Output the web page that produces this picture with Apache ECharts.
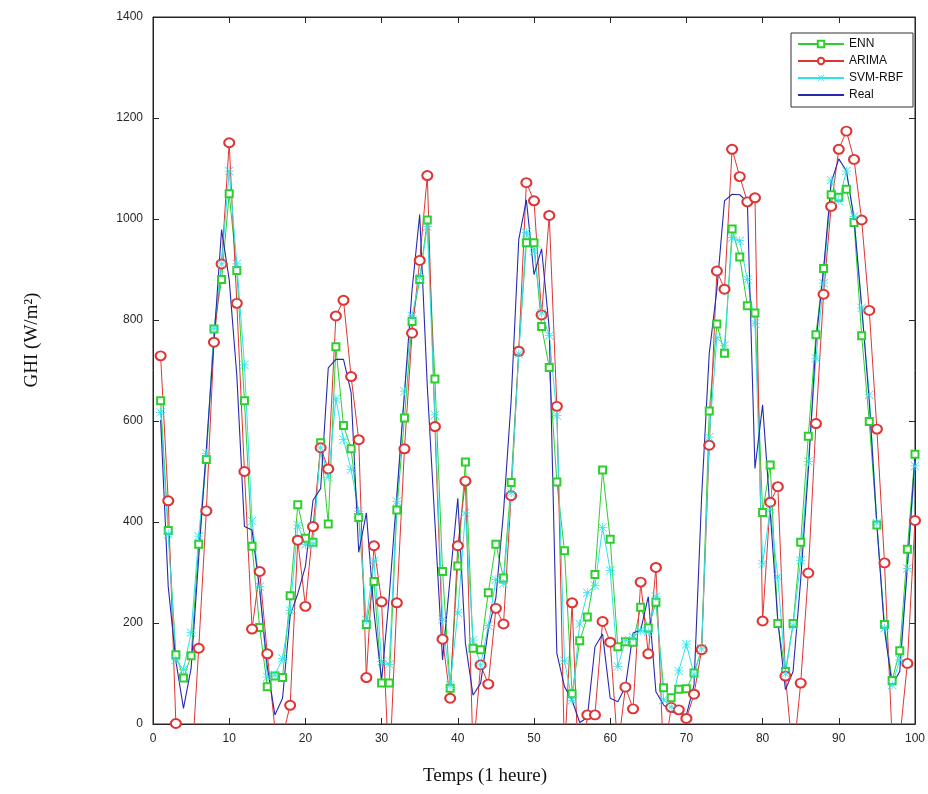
<!DOCTYPE html>
<html><head><meta charset="utf-8">
<script src="https://cdn.jsdelivr.net/npm/echarts@6/dist/echarts.min.js"></script>
<style>html,body{margin:0;padding:0;background:#fff}#c{width:928px;height:794px}</style>
</head><body><div id="c"></div><script>
// x positions (hour index)
const hours = Array.from({length: 100}, (_, i) => i + 1);
const xTicks = [0, 10, 20, 30, 40, 50, 60, 70, 80, 90, 100];
const yTicks = [0, 200, 400, 600, 800, 1000, 1200, 1400];
const seriesNames = ['ENN', 'ARIMA', 'SVM-RBF', 'Real'];

const ennValues = [
  640,383,137,91,135,356,524,782,880,1050,
  898,640,352,191,74,95,92,254,434,368,
  360,557,396,747,591,545,409,197,282,81,
  81,424,606,797,880,998,683,302,71,313,
  519,150,147,260,356,289,478,738,953,953,
  787,706,479,343,60,165,212,296,503,366,
  153,163,162,231,190,241,72,52,69,70,
  101,148,620,792,734,980,925,828,814,419,
  513,199,104,199,360,570,771,902,1048,1043,
  1059,993,769,599,394,197,86,145,346,534
];
const arimaValues = [
  729,442,1,-200,-100,150,422,756,911,1151,
  833,500,188,302,139,-10,-25,37,364,233,
  391,547,505,808,839,688,563,92,353,242,
  -100,240,545,774,918,1086,589,168,51,353,
  481,-60,117,79,229,198,452,738,1072,1036,
  810,1007,629,-60,240,-150,18,18,203,162,
  -50,73,30,281,139,310,-70,33,28,11,
  59,147,552,897,861,1138,1084,1034,1042,204,
  439,470,95,-70,81,299,595,851,1025,1138,
  1174,1118,998,819,584,319,-30,-30,120,403
];
const svmValues = [
  617,376,127,108,181,372,536,783,911,1095,
  911,711,402,272,93,97,130,225,394,355,
  357,547,489,644,563,504,421,206,323,124,
  118,441,659,808,884,985,612,207,77,220,
  418,166,117,195,286,278,458,733,973,937,
  814,769,611,125,47,198,260,274,389,304,
  114,165,172,185,182,252,48,34,105,158,
  98,149,568,765,750,963,957,880,793,317,
  425,291,100,195,324,520,724,873,1077,1036,
  1095,1005,824,652,398,190,77,127,308,511
];
const realValues = [
  602,272,125,31,110,330,545,760,979,880,
  690,391,384,265,113,18,51,215,258,312,
  443,466,705,722,722,656,340,418,222,86,
  252,454,655,860,1009,668,398,127,290,447,
  160,57,81,186,250,420,640,959,1038,890,
  941,783,140,74,47,3,13,153,178,51,
  44,74,180,186,252,64,38,24,22,18,
  77,450,734,860,1036,1049,1048,1034,506,632,
  420,204,68,104,285,502,756,900,1072,1119,
  1095,1000,828,638,394,186,77,104,312,529
];

const pair = arr => hours.map((h, i) => [h, arr[i]]);
const starPath = 'path://M9.2 0L10.8 0L10.8 20L9.2 20ZM0 9.2L20 9.2L20 10.8L0 10.8ZM1.2 0.1L0.1 1.2L18.8 19.9L19.9 18.8ZM18.8 0.1L19.9 1.2L1.2 19.9L0.1 18.8Z';
const axisColor = '#262626';
const tickFont = {fontFamily: 'Liberation Sans, Arial, sans-serif', fontSize: 12, color: axisColor};
const plainNum = v => String(v);

const cEnn = '#2ccf2c', cArima = '#e03434', cSvm = '#2ee2ea', cReal = '#2828b0';

const chart = echarts.init(document.getElementById('c'), null, {renderer: 'canvas'});
chart.setOption({
  backgroundColor: '#fff',
  animation: false,
  grid: {left: 153, right: 11, top: 17, bottom: 70, show: true, borderColor: axisColor, borderWidth: 1, backgroundColor: 'transparent'},
  legend: {
    orient: 'vertical', left: 791, top: 33,
    data: [seriesNames[0], seriesNames[1], seriesNames[2], {name: seriesNames[3], itemStyle: {opacity: 0}}],
    padding: [5, 10, 6, 6],
    itemWidth: 46, itemHeight: 8, itemGap: 5,
    borderColor: '#333', borderWidth: 1, backgroundColor: '#fff',
    textStyle: {fontFamily: 'Liberation Sans, Arial, sans-serif', fontSize: 12, color: '#111', lineHeight: 12}
  },
  xAxis: [{
    type: 'value', min: xTicks[0], max: xTicks[xTicks.length - 1], interval: 10,
    axisLine: {show: true, onZero: false, lineStyle: {color: axisColor}},
    axisTick: {show: true, inside: true, length: 6, lineStyle: {color: axisColor}},
    axisLabel: Object.assign({margin: 9, formatter: plainNum}, tickFont),
    splitLine: {show: false}
  }, {
    type: 'value', position: 'top', min: 0, max: 100, interval: 10,
    axisLine: {show: true, onZero: false, lineStyle: {color: axisColor}},
    axisTick: {show: true, inside: true, length: 6, lineStyle: {color: axisColor}},
    axisLabel: {show: false}, splitLine: {show: false}
  }],
  yAxis: [{
    type: 'value', min: yTicks[0], max: yTicks[yTicks.length - 1], interval: 200,
    axisLine: {show: true, onZero: false, lineStyle: {color: axisColor}},
    axisTick: {show: true, inside: true, length: 6, lineStyle: {color: axisColor}},
    axisLabel: Object.assign({margin: 10, formatter: plainNum}, tickFont),
    splitLine: {show: false}
  }, {
    type: 'value', position: 'right', min: 0, max: 1400, interval: 200,
    axisLine: {show: true, onZero: false, lineStyle: {color: axisColor}},
    axisTick: {show: true, inside: true, length: 6, lineStyle: {color: axisColor}},
    axisLabel: {show: false}, splitLine: {show: false}
  }],
  graphic: [
    {type: 'text', x: 485, y: 776, style: {text: 'Temps (1 heure)', font: '19px "Liberation Serif", "Times New Roman", serif', fill: '#111', align: 'center', verticalAlign: 'middle'}},
    {type: 'text', x: 32, y: 340, rotation: Math.PI / 2, style: {text: 'GHI (W/m\u00B2)', font: '19px "Liberation Serif", "Times New Roman", serif', fill: '#111', align: 'center', verticalAlign: 'middle'}}
  ],
  series: [
    {name: seriesNames[0], type: 'line', data: pair(ennValues), clip: true,
     symbol: 'emptyRect', symbolSize: 7, showAllSymbol: true,
     lineStyle: {color: cEnn, width: 1}, itemStyle: {color: cEnn, borderWidth: 1}},
    {name: seriesNames[1], type: 'line', data: pair(arimaValues), clip: true,
     symbol: 'emptyCircle', symbolSize: [10, 9], showAllSymbol: true,
     lineStyle: {color: cArima, width: 1}, itemStyle: {color: cArima, borderWidth: 1}},
    {name: seriesNames[2], type: 'line', data: pair(svmValues), clip: true,
     symbol: starPath, symbolSize: 9, showAllSymbol: true,
     lineStyle: {color: cSvm, width: 1}, itemStyle: {color: cSvm}},
    {name: seriesNames[3], type: 'line', data: pair(realValues), clip: true,
     symbol: 'none',
     lineStyle: {color: cReal, width: 1.1}, itemStyle: {color: cReal}}
  ]
});
</script></body></html>
